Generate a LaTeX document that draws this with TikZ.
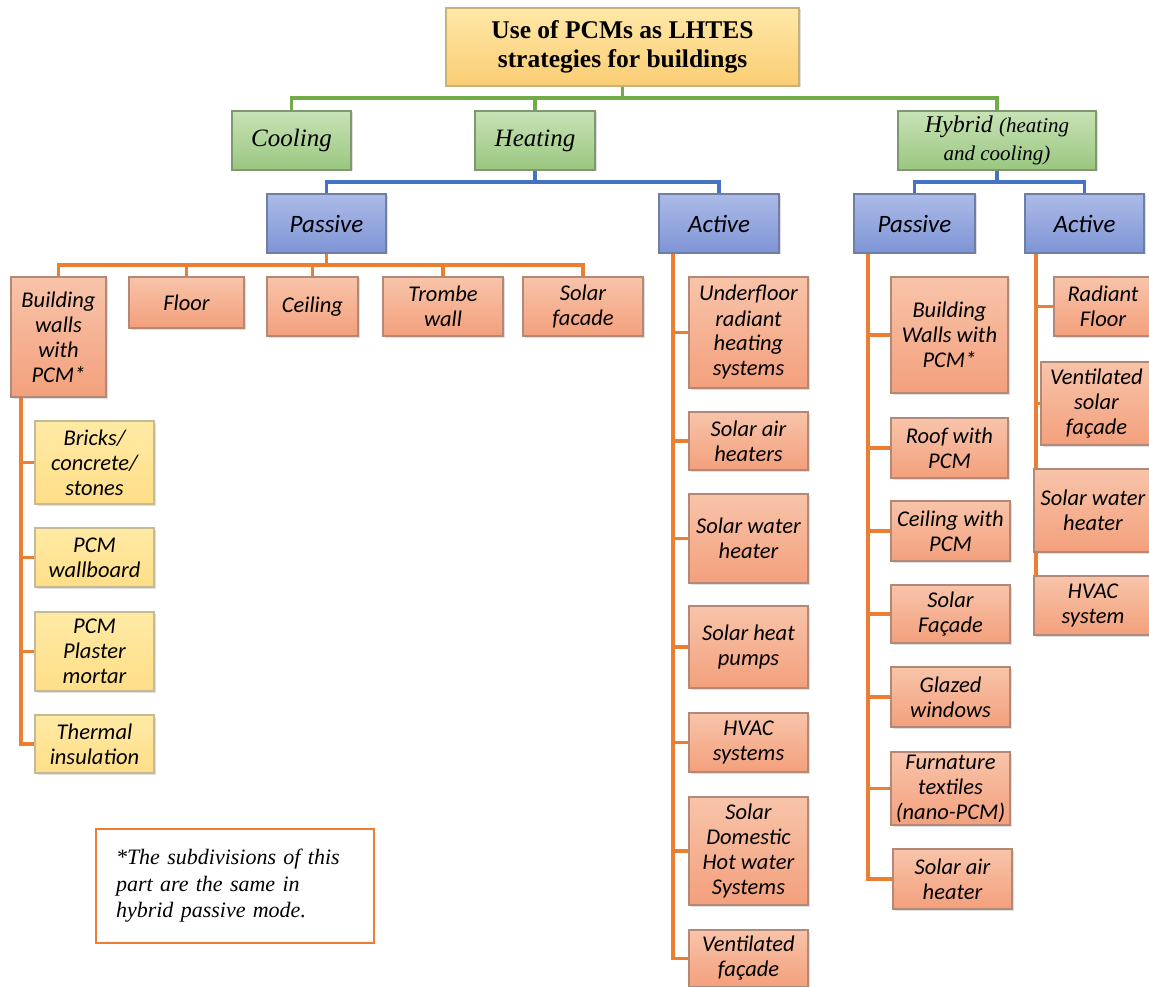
\documentclass[tikz,border=0pt]{standalone}
\usepackage{fontspec}
\setmainfont{Liberation Serif}
\newfontfamily\calfont{Carlito}
\usetikzlibrary{shadows}
\pgfdeclarelayer{bg}\pgfsetlayers{bg,main}
\definecolor{glc}{RGB}{112,173,71}
\definecolor{blc}{RGB}{68,114,196}
\definecolor{olc}{RGB}{237,125,49}
\definecolor{otop}{RGB}{248,196,170}
\definecolor{obot}{RGB}{243,160,124}
\definecolor{odraw}{RGB}{180,136,118}
\definecolor{btop}{RGB}{172,187,231}
\definecolor{bbot}{RGB}{126,148,214}
\definecolor{bdraw}{RGB}{112,126,165}
\definecolor{gtop}{RGB}{200,226,182}
\definecolor{gbot}{RGB}{154,199,128}
\definecolor{gdraw}{RGB}{128,152,112}
\definecolor{rtop}{RGB}{255,232,168}
\definecolor{rbot}{RGB}{250,205,115}
\definecolor{rdraw}{RGB}{200,176,122}
\definecolor{ytop}{RGB}{255,234,164}
\definecolor{ybot}{RGB}{255,222,136}
\definecolor{ydraw}{RGB}{196,186,150}
\tikzset{
  basebox/.style={rectangle, line width=1.5pt, inner xsep=2pt, inner ysep=0pt, align=center,
    drop shadow={shadow xshift=1.5pt, shadow yshift=-1.5pt, opacity=0.25}},
  rootbox/.style={basebox, draw=rdraw, top color=rtop, bottom color=rbot,
    font=\fontsize{25.5}{29}\selectfont\bfseries},
  gbox/.style={basebox, draw=gdraw, top color=gtop, bottom color=gbot,
    font=\fontsize{25}{28}\selectfont\itshape},
  bbox/.style={basebox, draw=bdraw, top color=btop, bottom color=bbot,
    font=\calfont\fontsize{25}{28}\selectfont\itshape},
  obox/.style={basebox, draw=odraw, top color=otop, bottom color=obot,
    font=\calfont\fontsize{22.5}{25}\selectfont\itshape},
  ybox/.style={basebox, draw=ydraw, top color=ytop, bottom color=ybot,
    font=\calfont\fontsize{22.5}{25}\selectfont\itshape},
  notebox/.style={rectangle, draw=olc, line width=2.4pt, fill=white, align=left,
    inner xsep=20pt, inner ysep=0pt, font=\fontsize{22}{26.5}\selectfont\itshape},
  gl/.style={draw=glc, line width=3.4pt},
  bl/.style={draw=blc, line width=3.4pt},
  ol/.style={draw=olc, line width=3.4pt}
}
\newcommand\bx[7]{\node[#1, minimum width={(#5-#3)*1pt}, minimum height={(#6-#4)*1pt}]
  (#2) at ({(#3+#5)/2},{(#4+#6)/2}) {#7};}
\begin{document}
\begin{tikzpicture}[x=1pt,y=-1pt]
\useasboundingbox (0,0) rectangle (1149,987);
% top levels
\bx{rootbox}{root}{446}{8}{799}{86}{Use of PCMs as LHTES\\strategies for buildings}
\bx{gbox}{cool}{232}{111}{351}{170}{Cooling}
\bx{gbox}{heat}{475}{111}{595}{170}{Heating}
\bx{gbox}{hyb}{898}{111}{1096}{170}{{\fontsize{24}{28}\selectfont Hybrid} {\fontsize{21}{28}\selectfont (heating}\\{\fontsize{21}{28}\selectfont and cooling)}}
\bx{bbox}{hp}{267}{194}{386}{253}{Passive}
\bx{bbox}{ha}{659}{194}{779}{253}{Active}
\bx{bbox}{hpp}{854}{194}{975}{253}{Passive}
\bx{bbox}{hpa}{1025}{194}{1144}{253}{Active}
% heating passive children
\bx{obox}{bw}{11}{277}{106}{397}{Building\\walls\\with\\PCM*}
\bx{obox}{fl}{129}{277}{244}{328}{Floor}
\bx{obox}{ce}{267}{277}{358}{336}{Ceiling}
\bx{obox}{tw}{383}{277}{503}{336}{Trombe\\wall}
\bx{obox}{sf}{523}{277}{643}{336}{Solar\\facade}
\bx{ybox}{y1}{35}{421}{154}{504}{Bricks/\\concrete/\\stones}
\bx{ybox}{y2}{35}{528}{154}{587}{PCM\\wallboard}
\bx{ybox}{y3}{35}{612}{154}{691}{PCM\\Plaster\\mortar}
\bx{ybox}{y4}{35}{715}{154}{773}{Thermal\\insulation}
% heating active children
\bx{obox}{a1}{689}{277}{808}{388}{Underfloor\\radiant\\heating\\systems}
\bx{obox}{a2}{689}{412}{808}{470}{Solar air\\heaters}
\bx{obox}{a3}{689}{494}{808}{583}{Solar water\\heater}
\bx{obox}{a4}{689}{606}{808}{688}{Solar heat\\pumps}
\bx{obox}{a5}{689}{713}{808}{772}{HVAC\\systems}
\bx{obox}{a6}{689}{797}{808}{905}{Solar\\Domestic\\Hot water\\Systems}
\bx{obox}{a7}{689}{930}{808}{987}{Ventilated\\façade}
% hybrid passive children
\bx{obox}{p1}{891}{277}{1008}{393}{Building\\Walls with\\PCM*}
\bx{obox}{p2}{891}{418}{1008}{478}{Roof with\\PCM}
\bx{obox}{p3}{891}{501}{1010}{561}{Ceiling with\\PCM}
\bx{obox}{p4}{891}{585}{1010}{643}{Solar\\Façade}
\bx{obox}{p5}{891}{667}{1010}{727}{Glazed\\windows}
\bx{obox}{p6}{891}{752}{1010}{825}{Furnature\\textiles\\(nano-PCM)}
\bx{obox}{p7}{893}{849}{1012}{909}{Solar air\\heater}
% hybrid active children
\bx{obox}{q1}{1054}{277}{1152}{336}{Radiant\\Floor}
\bx{obox}{q2}{1041}{362}{1152}{445}{Ventilated\\solar\\façade}
\bx{obox}{q3}{1034}{469}{1152}{552}{Solar water\\heater}
\bx{obox}{q4}{1034}{576}{1152}{635}{HVAC\\system}
% note
\node[notebox, minimum width=278pt, minimum height=114pt, text width=238pt] (note) at (235,886)
  {*The subdivisions of this\\part are the same in\\hybrid passive mode.};
% connectors
\coordinate (gbus) at (0,98);
\coordinate (bbus) at (0,182);
\coordinate (obus) at (0,265);
\coordinate (t1) at (21,0);
\coordinate (t2) at (673,0);
\coordinate (t3) at (868,0);
\coordinate (t4end) at (1036,603);
\begin{pgfonlayer}{bg}
\draw[gl] (root.south) -- (root.south |- gbus);
\draw[gl] (cool.north) |- (hyb.north |- gbus) -- (hyb.north);
\draw[gl] (heat.north) -- (heat.north |- gbus);
\draw[bl] (heat.south) -- (heat.south |- bbus);
\draw[bl] (hp.north) |- (ha.north |- bbus) -- (ha.north);
\draw[bl] (hyb.south) -- (hyb.south |- bbus);
\draw[bl] (hpp.north) |- (hpa.north |- bbus) -- (hpa.north);
\draw[ol] (hp.south) -- (hp.south |- obus);
\draw[ol] (bw.north) |- (sf.north |- obus) -- (sf.north);
\foreach \n in {fl,ce,tw} \draw[ol] (\n.north) -- (\n.north |- obus);
\draw[ol] (bw.south -| t1) |- (y4.west);
\foreach \n in {y1,y2,y3} \draw[ol] (\n.west) -- (\n.west -| t1);
\draw[ol] (ha.south -| t2) |- (a7.west);
\foreach \n in {a1,a2,a3,a4,a5,a6} \draw[ol] (\n.west) -- (\n.west -| t2);
\draw[ol] (hpp.south -| t3) |- (p7.west);
\foreach \n in {p1,p2,p3,p4,p5,p6} \draw[ol] (\n.west) -- (\n.west -| t3);
\draw[ol] (hpa.south -| t4end) -- (t4end);
\foreach \n in {q1,q2} \draw[ol] (\n.west) -- (\n.west -| t4end);
\end{pgfonlayer}
\end{tikzpicture}
\end{document}
